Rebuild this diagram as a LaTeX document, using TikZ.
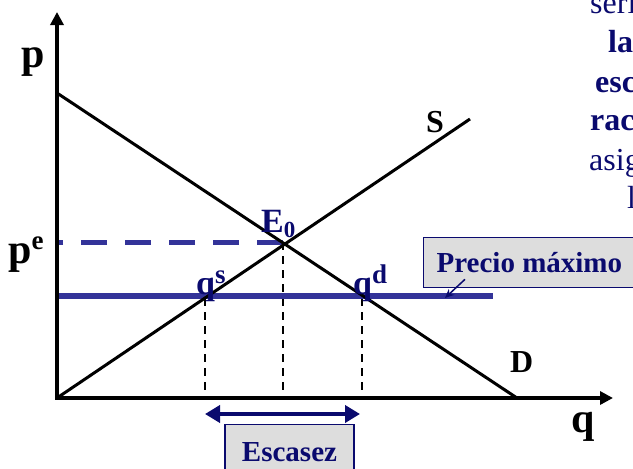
\documentclass[tikz,border=0pt]{standalone}
\usepackage{fontspec}
\setmainfont{Liberation Serif}
\usetikzlibrary{arrows.meta}
\definecolor{navy}{RGB}{10,10,110}
\definecolor{ceilblue}{RGB}{51,51,153}
\definecolor{boxgray}{RGB}{221,221,221}
\newcommand{\fsz}[1]{\fontsize{#1}{#1}\selectfont}
\newcommand{\supr}[1]{\raisebox{0.7ex}{\fsz{27}#1}}
\newcommand{\subr}[1]{\raisebox{-0.35ex}{\fsz{23}#1}}
\begin{document}
\begin{tikzpicture}[x=1pt,y=-1pt,
  axis/.style={line width=4pt, line join=miter, {Triangle[length=13pt,width=13pt]}-{Triangle[length=13pt,width=13pt]}},
  curve/.style={line width=3pt},
  ceiling/.style={line width=5.5pt, ceilblue},
  pedash/.style={line width=5pt, ceilblue, dash pattern=on 26pt off 18pt},
  guide/.style={line width=1.6pt, dash pattern=on 8pt off 6pt},
  biglab/.style={font=\fsz{42}\bfseries, inner sep=0pt, anchor=base west},
  curvelab/.style={font=\fsz{32}\bfseries, inner sep=0pt, anchor=base west},
  ptlab/.style={font=\fsz{34}\bfseries, text=navy, inner sep=0pt, anchor=base west},
  txtreg/.style={font=\fsz{32}, text=navy, inner sep=0pt, anchor=base west},
  txtbold/.style={font=\fsz{32}\bfseries, text=navy, inner sep=0pt, anchor=base west},
  labbox/.style={draw=navy, line width=1.3pt, fill=boxgray, text=navy, font=\fsz{29}\bfseries},
  escarrow/.style={line width=4pt, navy, {Triangle[length=15pt,width=17pt]}-{Triangle[length=15pt,width=17pt]}},
  pointer/.style={line width=1.5pt, navy, -{Stealth[length=9pt,width=8pt]}}
]
\useasboundingbox (0,0) rectangle (633,469);

% key points
\coordinate (O) at (57,398);
\coordinate (ytip) at (57,12);
\coordinate (xtip) at (613,398);
\coordinate (Dtop) at (57,93);
\coordinate (Dbot) at (517,398);
\coordinate (Stop) at (470,119);
\coordinate (E) at (283,242);
\coordinate (pe) at (57,242);
\coordinate (cL) at (57,296);
\coordinate (cR) at (493,296);
\coordinate (qs) at (205,298);
\coordinate (qsb) at (205,398);
\coordinate (Eb) at (283,398);
\coordinate (qd) at (362,298);
\coordinate (qdb) at (362,398);
\coordinate (ea) at (205,414);
\coordinate (eb) at (360,414);
\coordinate (ptip) at (445,298);

% guides
\draw[guide] (E) -- (Eb);
\draw[guide] (qs) -- (qsb);
\draw[guide] (qd) -- (qdb);

% price lines
\draw[pedash] (E) -- (pe);
\draw[ceiling] (cL) -- (cR);

% curves
\draw[curve] (Dtop) -- (Dbot);
\draw[curve] (O) -- (Stop);

% axes
\draw[axis] (ytip) -- (O) -- (xtip);

% axis and curve labels
\node[biglab] (lp) at (21,67) {p};
\node[biglab] (lpe) at (8,263) {p\supr{e}};
\node[biglab] (lq) at (571,432) {q};
\node[curvelab] (lS) at (426,132) {S};
\node[curvelab] (lD) at (510,372) {D};

% point labels
\node[ptlab] (lE) at (261,232) {E\subr{0}};
\node[ptlab] (lqs) at (196,294) {q\supr{s}};
\node[ptlab] (lqd) at (353,294) {q\supr{d}};

% boxes
\node[labbox, anchor=north west, minimum height=50pt, inner xsep=13pt, inner ysep=0pt] (pm) at (423,237) {Precio máximo\hspace*{30pt}};
\draw[pointer] ([xshift=42pt,yshift=9pt]pm.south west) -- (ptip);

\draw[escarrow] (ea) -- (eb);
\node[labbox, anchor=north, minimum width=129pt, minimum height=54pt, inner sep=0pt] (esc) at (289.5,424) {Escasez};

% cut-off text at top right
\node[txtreg] (t1) at (590,13) {seri};
\node[txtbold] (t2) at (608,52) {la};
\node[txtbold] (t3) at (595,92) {esc};
\node[txtbold] (t4) at (590,130) {rac};
\node[txtreg] (t5) at (589,170) {asig};
\node[txtreg] (t6) at (627,208) {l};
\end{tikzpicture}
\end{document}
